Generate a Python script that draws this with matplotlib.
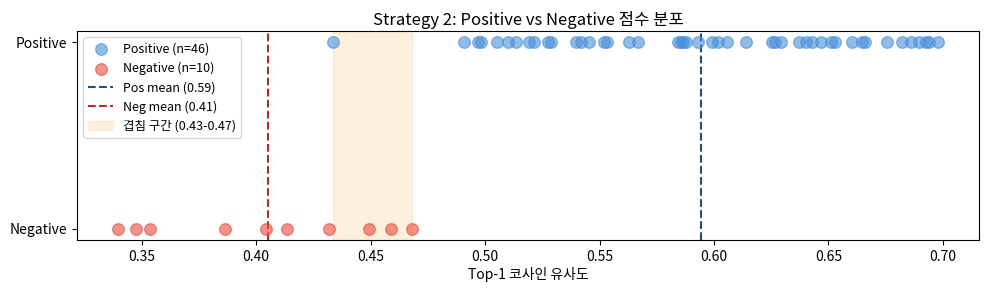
import matplotlib
matplotlib.use("Agg")
import matplotlib.pyplot as plt
import numpy as np

plt.rcParams['font.family'] = ['Noto Sans CJK KR', 'DejaVu Sans']

pos_scores = [0.4334, 0.4910, 0.4967, 0.4984, 0.5054, 0.5102, 0.5137, 0.5194,
              0.5215, 0.5277, 0.5290, 0.5399, 0.5421, 0.5455, 0.5521, 0.5534,
              0.5630, 0.5670, 0.5844, 0.5857, 0.5866, 0.5879, 0.5931, 0.5993,
              0.6019, 0.6058, 0.6141, 0.6254, 0.6267, 0.6294, 0.6372, 0.6403,
              0.6429, 0.6468, 0.6512, 0.6529, 0.6603, 0.6647, 0.6660, 0.6756,
              0.6822, 0.6861, 0.6896, 0.6926, 0.6940, 0.6979]
neg_scores = [0.3397, 0.3477, 0.3535, 0.3862, 0.4044, 0.4134, 0.4318, 0.4492,
              0.4591, 0.4682]
y_labels = ['Negative', 'Positive']

pos = np.array(pos_scores)
neg = np.array(neg_scores)
pos_mean = pos.mean()
neg_mean = neg.mean()
ov_lo, ov_hi = pos.min(), neg.max()

fig, ax = plt.subplots(figsize=(9.89, 2.9), dpi=100)

ax.scatter(pos, np.ones(len(pos)), s=70, color='#4a90d9', alpha=0.6,
           label='Positive (n={})'.format(len(pos)), zorder=3)
ax.scatter(neg, np.zeros(len(neg)), s=70, color='#e74c3c', alpha=0.6,
           label='Negative (n={})'.format(len(neg)), zorder=3)
ax.axvline(pos_mean, color='#1f4e79', linestyle='--', linewidth=1.5,
           label='Pos mean ({:.2f})'.format(pos_mean))
ax.axvline(neg_mean, color='#a93226', linestyle='--', linewidth=1.5,
           label='Neg mean ({:.2f})'.format(neg_mean))
ax.axvspan(ov_lo, ov_hi, color='#f5a623', alpha=0.15,
           label='겹침 구간 ({:.2f}-{:.2f})'.format(ov_lo, ov_hi))

ax.set_yticks([0, 1])
ax.set_yticklabels(y_labels)
ax.set_ylim(-0.06, 1.06)
ax.set_xlabel('Top-1 코사인 유사도', labelpad=2)
ax.set_title('Strategy 2: Positive vs Negative 점수 분포', pad=4)
ax.legend(loc='upper left', fontsize=9)

fig.subplots_adjust(left=0.078, right=0.99, top=0.893, bottom=0.172)
plt.savefig('out.png', dpi=100)
